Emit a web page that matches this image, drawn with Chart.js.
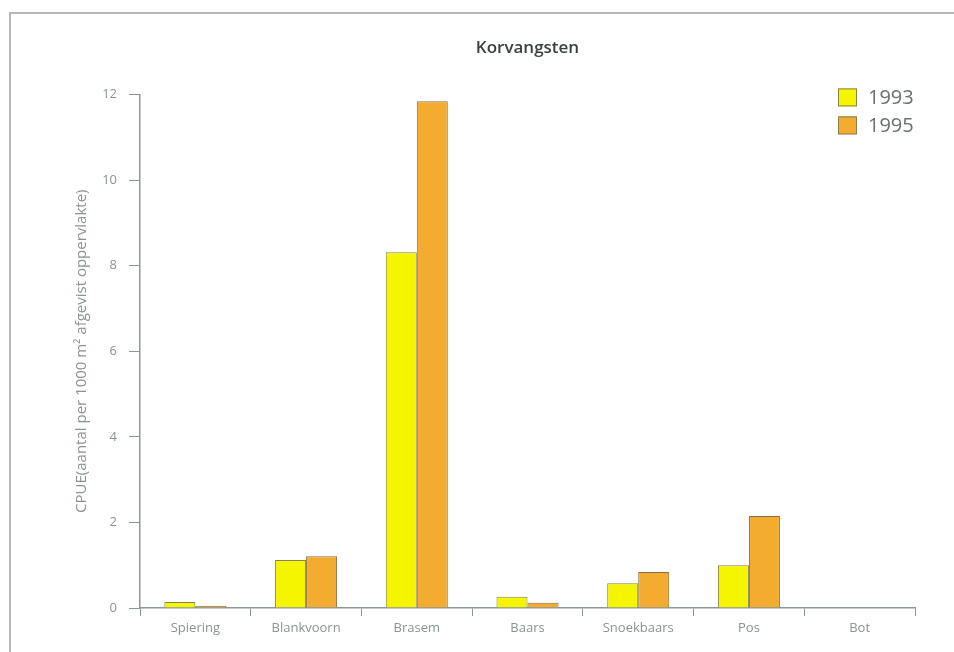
<!DOCTYPE html>
<html>
<head>
<meta charset="utf-8">
<script src="https://cdn.jsdelivr.net/npm/chart.js@4/dist/chart.umd.min.js"></script>
<style>
    html, body { margin: 0; padding: 0; background: #fff; }
    #wrap { position: relative; width: 954px; height: 652px; }
    #frame { position: absolute; left: 9px; top: 12px; right: 0; bottom: 0;
             border-left: 2px solid #b4b8b8; border-top: 2px solid #b4b8b8; pointer-events: none; }
    canvas { position: absolute; left: 0; top: 0; }
</style>
</head>
<body>
<div id="wrap">
    <canvas id="korvChart" width="954" height="652"></canvas>
    <div id="frame"></div>
</div>
<script>
const categories = ['Spiering', 'Blankvoorn', 'Brasem', 'Baars', 'Snoekbaars', 'Pos', 'Bot'];
const values1993 = [0.14, 1.12, 8.31, 0.26, 0.58, 1.0, 0];
const values1995 = [0.05, 1.21, 11.84, 0.12, 0.84, 2.15, 0];
const yTicks = [0, 2, 4, 6, 8, 10, 12];

const axisColor = '#8c9696';
const textColor = '#8a9292';
const fontFamily = "'Open Sans', Lato, sans-serif";

// legend stacked in the top-right corner of the plot
const cornerLegend = {
    id: 'cornerLegend',
    afterDraw(chart) {
        const ctx = chart.ctx;
        const area = chart.chartArea;
        ctx.save();
        chart.data.datasets.forEach((ds, i) => {
            const x = area.right - 77;
            const y = area.top - 6 + i * 28;
            ctx.fillStyle = ds.backgroundColor;
            ctx.fillRect(x, y, 19, 18);
            ctx.strokeStyle = '#8a8050';
            ctx.lineWidth = 1;
            ctx.strokeRect(x + 0.5, y + 0.5, 18, 17);
            ctx.fillStyle = '#6a7070';
            ctx.font = "20px " + fontFamily;
            ctx.textBaseline = 'middle';
            ctx.fillText(ds.label, x + 30, y + 10);
        });
        ctx.restore();
    }
};

const ctx = document.getElementById('korvChart').getContext('2d');
new Chart(ctx, {
    type: 'bar',
    data: {
        labels: categories,
        datasets: [
            { label: '1993', data: values1993, backgroundColor: '#f5f500', borderColor: '#8a8050', borderWidth: 1 },
            { label: '1995', data: values1995, backgroundColor: '#f3ab30', borderColor: '#8a7040', borderWidth: 1 }
        ]
    },
    options: {
        responsive: false,
        animation: false,
        layout: { padding: { left: 10, right: 39, top: 0, bottom: 0 } },
        datasets: { bar: { categoryPercentage: 0.56, barPercentage: 1 } },
        plugins: {
            legend: { display: false },
            tooltip: { enabled: false },
            title: {
                display: true,
                text: 'Korvangsten',
                fullSize: false,
                color: '#3a3f3f',
                font: { family: fontFamily, size: 17, weight: '600' },
                padding: { top: 38, bottom: 36 }
            }
        },
        scales: {
            x: {
                grid: { display: true, drawOnChartArea: false, color: axisColor, tickLength: 8, offset: true },
                border: { color: axisColor, width: 1.5 },
                ticks: { color: textColor, font: { family: fontFamily, size: 13 }, padding: 4 },
                afterFit(scale) { scale.height = 44; }
            },
            y: {
                min: 0,
                max: 12,
                afterBuildTicks(scale) { scale.ticks = yTicks.map(v => ({ value: v })); },
                grid: { display: true, drawOnChartArea: false, color: axisColor, tickLength: 11 },
                border: { color: axisColor, width: 1.5 },
                ticks: { color: textColor, font: { family: fontFamily, size: 13 }, padding: 12 },
                title: {
                    display: true,
                    text: 'CPUE(aantal per 1000 m² afgevist oppervlakte)',
                    color: textColor,
                    font: { family: fontFamily, size: 15 },
                    padding: { top: 63, bottom: 0 }
                },
                afterFit(scale) { scale.width = 130; }
            }
        }
    },
    plugins: [cornerLegend]
});
</script>
</body>
</html>
